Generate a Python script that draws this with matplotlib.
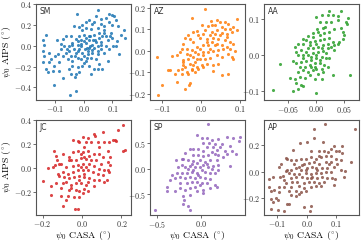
import numpy as np
import matplotlib
matplotlib.use("Agg")
import matplotlib.pyplot as plt

plt.rcParams['mathtext.fontset'] = 'cm'
plt.rcParams['font.family'] = 'DejaVu Sans'

# stations and colours
names = ['SM', 'AZ', 'AA', 'JC', 'SP', 'AP']
colors = ['#1f77b4', '#ff7f0e', '#2ca02c', '#d62728', '#9467bd', '#8c564b']

# psi0 CASA vs psi0 AIPS (deg)
sm_pts = np.array([
    (-0.025, 0.309), (0.051, 0.347), (0.087, 0.303), (0.098, 0.294), (0.104, 0.284),
    (0.077, 0.272), (0.042, 0.284), (0.119, 0.191), (0.142, 0.153), (0.112, 0.253),
    (0.087, 0.231), (0.060, 0.216), (0.030, 0.209), (0.019, 0.247), (0.007, 0.169),
    (-0.016, 0.184), (-0.034, 0.191), (-0.005, 0.153), (0.025, 0.159), (0.048, 0.169),
    (0.071, 0.153), (0.095, 0.122), (0.130, 0.106), (0.145, 0.075), (0.116, 0.044),
    (0.112, -0.003), (0.122, -0.081), (0.083, 0.059), (0.065, 0.091), (0.054, 0.075),
    (0.036, 0.106), (0.019, 0.091), (0.001, 0.106), (-0.016, 0.091), (-0.028, 0.066),
    (-0.046, 0.091), (-0.063, 0.091), (-0.075, 0.066), (-0.096, 0.053), (-0.133, 0.106),
    (-0.145, 0.059), (-0.139, 0.013), (-0.145, -0.050), (-0.139, -0.097), (-0.122, -0.066),
    (-0.116, -0.128), (-0.124, -0.159), (-0.145, -0.153), (-0.133, -0.222), (-0.127, -0.253),
    (-0.110, -0.238), (-0.104, -0.191), (-0.087, -0.238), (-0.089, -0.159), (-0.075, -0.097),
    (-0.063, -0.066), (-0.081, -0.034), (-0.092, -0.081), (-0.051, -0.003), (-0.040, 0.028),
    (-0.022, 0.044), (-0.011, -0.003), (0.007, 0.028), (0.019, -0.019), (0.030, 0.013),
    (0.042, 0.034), (0.060, 0.013), (0.077, -0.003), (0.089, -0.034), (0.101, 0.003),
    (0.071, -0.066), (0.048, -0.050), (0.030, -0.066), (0.013, -0.081), (-0.005, -0.066),
    (-0.028, -0.066), (-0.046, -0.097), (-0.057, -0.128), (-0.040, -0.144), (-0.022, -0.113),
    (-0.011, -0.128), (0.007, -0.144), (0.025, -0.113), (0.042, -0.128), (0.054, -0.175),
    (0.065, -0.222), (0.083, -0.144), (0.036, -0.222), (0.019, -0.191), (-0.005, -0.191),
    (-0.022, -0.206), (-0.040, -0.191), (-0.051, -0.222), (-0.046, -0.269), (-0.028, -0.269),
    (-0.030, -0.300), (-0.016, -0.253), (0.025, -0.269), (0.048, -0.222), (-0.104, -0.372),
    (-0.075, -0.309), (-0.028, -0.434), (-0.048, -0.472), (0.005, -0.034), (0.016, -0.050),
    (0.001, -0.097), (-0.016, -0.034), (-0.034, -0.034), (-0.051, -0.050), (-0.069, -0.003),
    (0.019, 0.059), (0.036, -0.019), (0.060, -0.034), (0.077, 0.091), (0.098, 0.075),
    (0.071, 0.191), (0.060, 0.263), (0.036, 0.231), (0.007, 0.231), (-0.005, 0.200),
    (0.054, 0.122), (0.033, 0.059), (0.048, 0.003), (-0.011, 0.059), (-0.022, 0.013),
    (0.007, 0.075), (0.010, -0.020), (-0.010, 0.020), (0.020, 0.000), (0.030, -0.040),
    (-0.020, -0.050), (0.000, 0.050), (0.040, 0.060), (-0.030, -0.100), (0.010, -0.120),
    (0.050, -0.080), (0.060, 0.040), (-0.060, -0.030), (0.000, -0.160), (-0.040, 0.010),
    (0.020, 0.100), (0.090, 0.100), (0.100, 0.200), (0.070, 0.120), (-0.080, 0.020),
    (-0.100, -0.100)])

az_pts = np.array([
    (0.010, 0.194), (-0.022, 0.153), (0.094, 0.150), (0.025, 0.138), (0.049, 0.135),
    (0.002, 0.119), (0.019, 0.116), (0.036, 0.119), (0.062, 0.104), (0.041, 0.096),
    (0.054, 0.085), (0.067, 0.081), (0.080, 0.088), (0.028, 0.088), (0.010, 0.096),
    (-0.011, 0.091), (-0.042, 0.060), (-0.029, 0.057), (-0.046, 0.034), (-0.050, 0.011),
    (-0.037, 0.011), (-0.020, 0.042), (-0.003, 0.060), (0.015, 0.057), (0.032, 0.060),
    (0.045, 0.054), (0.062, 0.050), (0.075, 0.042), (0.084, 0.034), (0.054, 0.029),
    (0.036, 0.026), (0.019, 0.026), (0.006, 0.026), (-0.011, 0.019), (-0.024, 0.003),
    (-0.037, -0.012), (-0.055, -0.005), (-0.076, -0.023), (-0.113, -0.028), (-0.063, -0.020),
    (-0.046, -0.043), (-0.033, -0.036), (-0.020, -0.028), (-0.007, -0.012), (0.006, -0.005),
    (0.019, -0.005), (0.032, -0.002), (0.045, 0.003), (0.058, 0.008), (0.071, -0.012),
    (0.084, -0.036), (0.080, -0.028), (0.054, -0.028), (0.041, -0.020), (0.023, -0.033),
    (0.010, -0.036), (-0.003, -0.039), (-0.016, -0.051), (-0.029, -0.059), (-0.042, -0.074),
    (-0.050, -0.082), (-0.059, -0.090), (-0.081, -0.090), (-0.085, -0.087), (-0.068, -0.105),
    (-0.050, -0.105), (-0.037, -0.098), (-0.024, -0.090), (-0.011, -0.074), (0.002, -0.067),
    (0.015, -0.059), (0.032, -0.067), (0.045, -0.059), (0.032, -0.095), (0.054, -0.113),
    (0.071, -0.105), (-0.024, -0.082), (-0.016, -0.098), (-0.063, -0.144), (-0.029, -0.147),
    (-0.030, -0.160), (-0.042, -0.175), (-0.100, -0.160), (-0.111, -0.203), (-0.046, -0.051),
    (-0.011, -0.036), (0.006, -0.020), (0.023, 0.011), (0.041, 0.034), (0.049, 0.073),
    (0.067, 0.065), (0.023, 0.073), (0.006, 0.081), (-0.007, 0.073), (-0.020, 0.088),
    (-0.033, 0.073), (0.093, 0.096), (0.084, 0.112), (0.071, 0.127), (0.054, 0.112),
    (0.041, 0.143), (0.028, 0.119), (0.015, 0.042), (0.028, 0.042), (-0.003, 0.011),
    (-0.016, -0.005), (-0.029, -0.020), (0.006, -0.074), (-0.007, -0.082), (-0.020, -0.067),
    (-0.033, -0.105), (-0.046, -0.067), (0.067, 0.019), (0.075, 0.011), (0.088, -0.002),
    (0.036, 0.081), (0.062, 0.135), (0.075, 0.104)])

aa_pts = np.array([
    (0.024, 0.122), (0.044, 0.122), (0.001, 0.106), (0.010, 0.111), (0.021, 0.111),
    (0.030, 0.111), (0.039, 0.109), (0.057, 0.104), (0.054, 0.091), (0.055, 0.085),
    (0.002, 0.072), (0.017, 0.079), (0.033, 0.072), (0.044, 0.076), (0.048, 0.065),
    (0.051, 0.056), (0.024, 0.065), (0.015, 0.060), (0.007, 0.056), (-0.005, 0.051),
    (-0.014, 0.054), (-0.017, 0.042), (-0.032, 0.030), (-0.038, 0.023), (-0.023, 0.030),
    (-0.011, 0.037), (-0.002, 0.039), (0.007, 0.042), (0.015, 0.046), (0.024, 0.048),
    (0.030, 0.037), (0.039, 0.032), (0.033, 0.028), (0.021, 0.032), (0.013, 0.028),
    (0.004, 0.023), (-0.005, 0.019), (-0.014, 0.019), (-0.026, 0.014), (-0.035, 0.009),
    (-0.032, 0.000), (-0.023, 0.000), (-0.014, 0.000), (-0.005, 0.005), (0.004, 0.009),
    (0.013, 0.011), (0.021, 0.019), (0.027, 0.023), (0.018, 0.005), (0.010, -0.005),
    (0.001, -0.009), (-0.008, -0.014), (-0.017, -0.017), (-0.026, -0.019), (-0.035, -0.021),
    (-0.041, -0.017), (-0.064, -0.024), (-0.029, -0.032), (-0.020, -0.032), (-0.011, -0.028),
    (-0.002, -0.023), (0.007, -0.023), (0.015, -0.028), (0.021, -0.032), (0.030, -0.054),
    (0.061, -0.054), (0.013, -0.046), (0.004, -0.051), (-0.005, -0.042), (-0.014, -0.046),
    (-0.023, -0.042), (-0.032, -0.046), (-0.047, -0.063), (-0.038, -0.067), (-0.029, -0.060),
    (-0.035, -0.076), (-0.026, -0.083), (-0.023, -0.085), (-0.041, -0.100), (-0.033, -0.094),
    (-0.076, -0.097), (0.001, -0.104), (0.010, -0.065), (-0.002, -0.065), (-0.011, -0.056),
    (-0.020, -0.063), (0.010, -0.037), (0.001, -0.037), (-0.008, -0.032), (0.024, -0.009),
    (0.033, 0.014), (0.042, 0.037), (0.048, 0.046), (-0.023, 0.046), (0.013, 0.074),
    (0.004, 0.065), (-0.005, 0.060), (0.039, 0.097), (0.027, 0.093), (0.018, 0.093),
    (0.007, 0.093), (-0.011, 0.028), (0.001, 0.030), (0.010, 0.019), (-0.017, 0.009),
    (-0.008, -0.005), (0.001, 0.000), (-0.023, -0.009), (0.018, -0.009), (0.007, -0.014),
    (-0.002, -0.032)])

jc_pts = np.array([
    (0.206, 0.359), (0.181, 0.316), (0.105, 0.305), (0.062, 0.288), (0.068, 0.269),
    (0.003, 0.261), (0.029, 0.250), (-0.044, 0.233), (-0.022, 0.228), (-0.014, 0.214),
    (0.020, 0.222), (0.046, 0.214), (0.079, 0.222), (0.113, 0.222), (0.138, 0.222),
    (0.159, 0.233), (0.167, 0.239), (0.219, 0.151), (0.209, 0.145), (-0.140, 0.140),
    (-0.098, 0.118), (-0.047, 0.132), (-0.022, 0.145), (0.003, 0.132), (0.029, 0.145),
    (0.012, 0.173), (0.037, 0.104), (0.062, 0.118), (0.088, 0.118), (0.105, 0.091),
    (0.142, 0.091), (0.130, 0.049), (0.142, 0.022), (0.096, 0.036), (0.071, 0.063),
    (0.046, 0.069), (0.020, 0.077), (-0.005, 0.085), (-0.030, 0.063), (-0.056, 0.069),
    (-0.064, 0.069), (-0.128, 0.069), (-0.135, 0.022), (-0.174, 0.003), (-0.199, -0.107),
    (-0.149, 0.008), (-0.115, 0.036), (-0.106, 0.036), (-0.081, 0.008), (-0.047, 0.014),
    (-0.022, 0.022), (0.003, 0.036), (0.037, 0.036), (0.062, 0.014), (0.088, -0.005),
    (0.113, -0.014), (0.130, -0.019), (0.138, -0.033), (0.105, -0.060), (0.079, -0.047),
    (0.054, -0.033), (0.029, -0.019), (0.003, -0.019), (-0.022, -0.019), (-0.047, -0.033),
    (-0.073, -0.047), (-0.098, -0.033), (-0.123, -0.047), (-0.115, -0.069), (-0.089, -0.074),
    (-0.064, -0.088), (-0.039, -0.074), (-0.014, -0.069), (0.012, -0.074), (0.037, -0.088),
    (0.062, -0.102), (0.088, -0.102), (0.113, -0.115), (0.125, -0.102), (0.062, -0.156),
    (0.020, -0.143), (-0.005, -0.129), (-0.030, -0.129), (-0.056, -0.143), (-0.081, -0.115),
    (-0.098, -0.129), (-0.132, -0.129), (-0.157, -0.156), (-0.157, -0.225), (-0.064, -0.189),
    (-0.056, -0.170), (-0.030, -0.184), (-0.014, -0.198), (0.012, -0.178), (-0.106, -0.170),
    (-0.106, -0.239), (-0.073, -0.233), (-0.039, -0.244), (-0.014, -0.244), (-0.081, -0.266),
    (-0.098, -0.316), (-0.034, -0.343), (-0.022, -0.348), (0.003, -0.211), (0.029, -0.198),
    (-0.005, 0.008), (0.020, 0.008), (0.012, -0.047), (-0.014, -0.102), (0.029, -0.115),
    (0.012, 0.091), (-0.005, 0.118), (-0.132, 0.104), (-0.064, 0.096), (0.172, 0.228),
    (0.130, 0.145), (0.088, 0.173)])

sp_pts = np.array([
    (0.076, 0.872), (-0.049, 0.667), (0.008, 0.603), (0.072, 0.603), (0.121, 0.564),
    (0.197, 0.583), (0.299, 0.615), (0.367, 0.603), (0.443, 0.628), (0.027, 0.500),
    (0.095, 0.500), (0.159, 0.487), (0.235, 0.487), (0.330, 0.455), (0.436, 0.538),
    (-0.182, 0.308), (-0.125, 0.391), (-0.087, 0.391), (-0.030, 0.391), (0.027, 0.359),
    (0.133, 0.423), (0.178, 0.372), (0.273, 0.359), (0.348, 0.359), (0.398, 0.282),
    (-0.284, 0.179), (-0.087, 0.263), (-0.030, 0.263), (0.027, 0.244), (0.083, 0.263),
    (0.121, 0.327), (0.159, 0.295), (0.197, 0.263), (0.254, 0.231), (-0.201, 0.199),
    (-0.144, 0.167), (-0.087, 0.154), (-0.049, 0.115), (-0.011, 0.179), (0.045, 0.135),
    (0.102, 0.167), (0.178, 0.167), (0.330, 0.051), (-0.220, 0.071), (-0.258, 0.038),
    (-0.182, 0.038), (-0.125, 0.051), (-0.068, 0.038), (-0.011, 0.038), (0.027, 0.071),
    (0.083, 0.038), (0.140, 0.051), (0.197, 0.071), (0.197, -0.026), (-0.333, -0.122),
    (-0.277, -0.090), (-0.220, -0.077), (-0.163, -0.077), (-0.106, -0.058), (-0.049, -0.090),
    (0.008, -0.026), (0.045, -0.058), (0.102, -0.090), (0.159, -0.090), (-0.352, -0.218),
    (-0.295, -0.186), (-0.239, -0.154), (-0.182, -0.186), (-0.125, -0.154), (-0.068, -0.186),
    (-0.011, -0.154), (0.045, -0.186), (0.102, -0.205), (-0.239, -0.282), (-0.163, -0.282),
    (-0.106, -0.250), (-0.049, -0.250), (0.008, -0.269), (0.064, -0.282), (0.159, -0.314),
    (-0.383, -0.346), (-0.390, -0.423), (-0.295, -0.442), (-0.239, -0.378), (-0.182, -0.410),
    (-0.125, -0.378), (-0.068, -0.359), (0.027, -0.410), (0.178, -0.346), (0.102, -0.378),
    (-0.201, -0.526), (-0.125, -0.506), (-0.193, -0.603), (-0.201, -0.679), (-0.144, -0.718),
    (-0.523, -0.808), (-0.125, -0.814), (0.027, -0.462), (-0.049, -0.442), (-0.087, -0.026),
    (-0.030, -0.122), (-0.144, 0.006), (0.064, 0.103), (0.121, 0.006), (-0.106, 0.103),
    (-0.011, -0.314), (-0.220, 0.199), (0.216, 0.423), (0.292, 0.295), (0.064, 0.423)])

ap_pts = np.array([
    (0.061, 0.363), (0.025, 0.321), (0.164, 0.326), (0.023, 0.254), (0.000, 0.222),
    (-0.023, 0.215), (0.056, 0.222), (0.093, 0.198), (0.118, 0.198), (-0.045, 0.165),
    (0.014, 0.160), (0.042, 0.160), (0.059, 0.160), (0.072, 0.148), (0.081, 0.173),
    (0.098, 0.160), (0.110, 0.160), (0.121, 0.141), (-0.071, 0.106), (-0.066, 0.099),
    (-0.094, 0.037), (-0.088, 0.062), (-0.054, 0.086), (-0.037, 0.086), (-0.020, 0.099),
    (-0.003, 0.099), (0.014, 0.111), (0.031, 0.099), (0.047, 0.111), (0.064, 0.123),
    (0.081, 0.116), (0.098, 0.099), (0.115, 0.086), (0.149, 0.074), (0.081, 0.074),
    (0.064, 0.074), (0.042, 0.062), (0.025, 0.074), (0.008, 0.067), (-0.009, 0.062),
    (-0.026, 0.037), (-0.071, 0.007), (-0.066, 0.012), (-0.054, 0.017), (-0.037, 0.025),
    (-0.020, 0.012), (0.002, 0.025), (0.019, 0.037), (0.036, 0.017), (0.053, 0.025),
    (0.070, 0.032), (0.093, 0.037), (0.115, 0.012), (0.129, 0.007), (0.081, 0.000),
    (0.064, 0.000), (0.047, -0.007), (0.031, -0.012), (0.014, -0.017), (-0.003, -0.012),
    (-0.026, -0.017), (-0.043, -0.017), (-0.060, -0.012), (-0.082, -0.032), (-0.116, -0.037),
    (-0.128, -0.057), (-0.090, -0.042), (-0.077, -0.062), (-0.054, -0.049), (-0.037, -0.037),
    (-0.015, -0.042), (0.002, -0.049), (0.019, -0.042), (0.036, -0.049), (0.053, -0.037),
    (0.070, -0.049), (0.087, -0.049), (0.096, -0.057), (0.093, -0.099), (0.059, -0.074),
    (0.042, -0.086), (0.025, -0.074), (0.008, -0.081), (-0.009, -0.086), (-0.032, -0.081),
    (-0.049, -0.074), (-0.071, -0.086), (-0.094, -0.116), (-0.077, -0.116), (-0.054, -0.116),
    (-0.026, -0.111), (-0.009, -0.123), (0.014, -0.116), (0.031, -0.111), (0.047, -0.111),
    (-0.111, -0.136), (-0.122, -0.148), (-0.094, -0.156), (-0.060, -0.148), (-0.037, -0.148),
    (-0.020, -0.156), (-0.003, -0.148), (-0.054, -0.173), (-0.037, -0.180), (-0.026, -0.165),
    (-0.105, -0.198), (-0.099, -0.215), (-0.066, -0.240), (-0.060, -0.247), (-0.009, -0.264),
    (0.014, -0.259), (-0.122, -0.284), (-0.099, -0.289), (-0.077, -0.296), (0.011, -0.296),
    (-0.120, -0.205), (-0.113, -0.230), (-0.128, -0.116), (-0.015, 0.049), (-0.003, 0.012),
    (0.031, 0.025), (0.014, -0.049), (-0.043, 0.062), (0.042, 0.123), (0.076, 0.062),
    (0.104, 0.062), (0.127, -0.037)])

points = [sm_pts, az_pts, aa_pts, jc_pts, sp_pts, ap_pts]

xticks = [[-0.1, 0.0, 0.1], [-0.1, 0.0, 0.1], [-0.05, 0.0, 0.05],
          [-0.2, 0.0, 0.2], [-0.5, 0.0], [-0.1, 0.0, 0.1]]
yticks = [[-0.4, -0.2, 0.0, 0.2, 0.4], [-0.2, -0.1, 0.0, 0.1, 0.2], [-0.1, 0.0, 0.1],
          [-0.2, 0.0, 0.2, 0.4], [-0.5, 0.0, 0.5], [-0.2, 0.0, 0.2]]
xfmt = ['%.1f', '%.1f', '%.2f', '%.1f', '%.1f', '%.1f']
xlims = [(-0.168, 0.165), (-0.132, 0.114), (-0.093, 0.077),
         (-0.233, 0.248), (-0.58, 0.50), (-0.145, 0.177)]
ylims = [(-0.52, 0.405), (-0.228, 0.219), (-0.124, 0.142),
         (-0.395, 0.405), (-0.90, 0.96), (-0.326, 0.393)]

fig = plt.figure(figsize=(3.61, 2.42), dpi=100)

lefts = [0.0997, 0.4155, 0.7313]
bottoms = [0.587, 0.112]
w = 0.263
hs = [0.397, 0.393]

def tex(v, f):
    return '$' + (f % v) + '$'

for i in range(6):
    r, c = divmod(i, 3)
    ax = fig.add_axes([lefts[c], bottoms[r], w, hs[r]])
    p = points[i]
    ax.scatter(p[:, 0], p[:, 1], s=5, color=colors[i], alpha=0.85, linewidths=0)
    ax.set_xlim(xlims[i])
    ax.set_ylim(ylims[i])
    ax.set_xticks(xticks[i])
    ax.set_xticklabels([tex(v, xfmt[i]) for v in xticks[i]])
    ax.set_yticks(yticks[i])
    ax.set_yticklabels([tex(v, '%.1f') for v in yticks[i]])
    ax.tick_params(labelsize=5.8, length=2, width=0.6, color='#555555', pad=1.0,
                   labelcolor='#333333')
    for s in ax.spines.values():
        s.set_color('#555555')
        s.set_linewidth(0.8)
    ax.text(0.04, 0.97, names[i], transform=ax.transAxes, ha='left', va='top',
            fontsize=5.5, color='#333333')

# shared axis labels
for yc in [0.785, 0.308]:
    fig.text(0.018, yc, r'$\psi_0\ \mathrm{AIPS}\ (^{\circ})$', rotation=90,
             ha='center', va='center', fontsize=7.0)
for xc in [0.231, 0.547, 0.863]:
    fig.text(xc, 0.002, r'$\psi_0\ \mathrm{CASA}\ (^{\circ})$',
             ha='center', va='bottom', fontsize=7.0)

fig.savefig('out.png', dpi=100)
